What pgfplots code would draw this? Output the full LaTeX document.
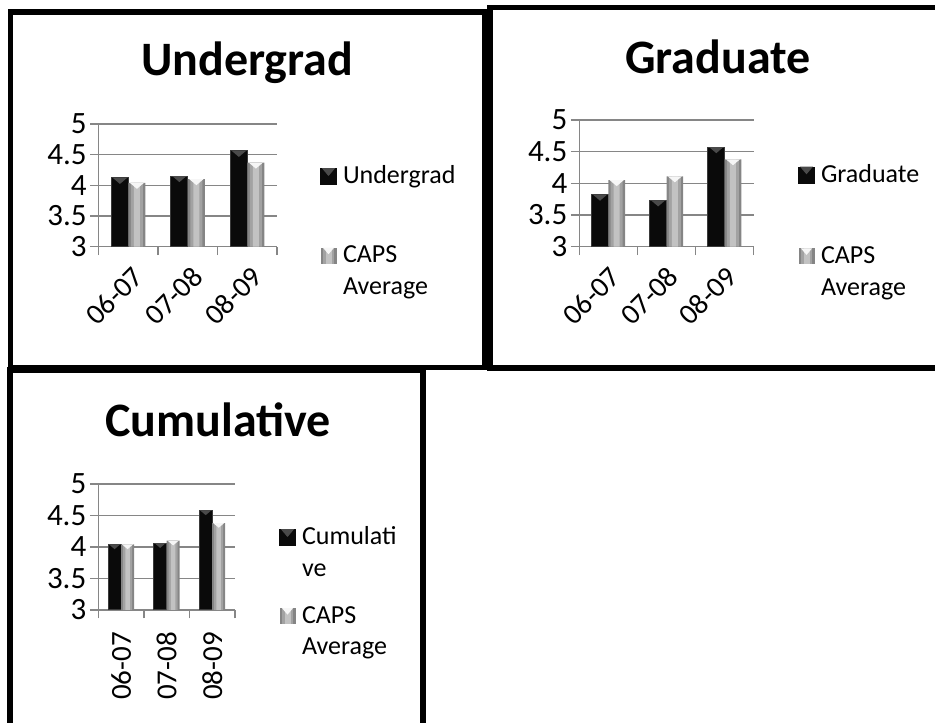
\documentclass[border=0pt]{standalone}
\usepackage{fontspec}
\setmainfont{Carlito}
\usepackage{pgfplots}
\pgfplotsset{compat=1.18}

\definecolor{rule}{HTML}{868686}
\definecolor{inkbar}{HTML}{0A0A0A}
\definecolor{inkedge}{HTML}{3A3A3A}
\definecolor{inktip}{HTML}{4A4A4A}
\definecolor{capsmid}{HTML}{C2C2C2}
\definecolor{capsbody}{HTML}{A2A2A2}
\definecolor{capsedge}{HTML}{858585}
\definecolor{capstip}{HTML}{F6F6F6}

% downward wedge hanging from the top of a bar
\pgfdeclareplotmark{wedge}{%
  \pgfpathmoveto{\pgfqpoint{-\pgfplotmarksize}{0pt}}%
  \pgfpathlineto{\pgfqpoint{\pgfplotmarksize}{0pt}}%
  \pgfpathlineto{\pgfqpoint{0pt}{-0.85\pgfplotmarksize}}%
  \pgfpathclose
  \pgfusepathqfill}

\newcommand{\entry}[1]{\begin{tabular}[t]{@{}l@{}}#1\end{tabular}}

\pgfplotsset{
  panel/.style={
    scale only axis, anchor=south west,
    ymin=3, ymax=5, ytick={3,3.5,...,5},
    xmin=0.5, xmax=3.5,
    xtick={0.5,1.5,2.5,3.5}, xticklabels={},
    extra x ticks={1,2,3},
    extra x tick labels={06-07,07-08,08-09},
    extra x tick style={major tick length=0pt},
    axis lines*=left,
    axis line style={rule, line width=1.4pt},
    ymajorgrids,
    major grid style={rule, line width=1.4pt},
    tick align=outside, major tick length=8.5pt,
    tick style={rule, line width=1.4pt},
    y tick label style={font=\fontsize{31}{36}\selectfont},
    x tick label style={font=\fontsize{29}{34}\selectfont},
    /pgf/number format/assume math mode=true,
    legend style={draw=none, fill=none, inner sep=0pt, outer sep=0pt,
      column sep=4pt, cells={anchor=base west},
      font=\fontsize{26}{31.6}\selectfont},
  },
  % dark bars of the group being compared
  series/.style={ybar, bar shift=-#1, fill=inkbar, draw=inkedge, line width=1pt,
    mark=wedge, mark options={fill=inktip, draw=none, xshift=-#1},
    legend image code/.code={\fill[inkbar] (0pt,-1pt) rectangle (16pt,15pt);
      \fill[inktip] (2.5pt,15pt) -- (13.5pt,15pt) -- (8pt,8.5pt) -- cycle;}},
  % grey CAPS bars, body first and a lighter core on top
  caps/.style={ybar, bar shift=#1, fill=capsedge, draw=none,
    legend image code/.code={\fill[capsedge] (0pt,-1pt) rectangle (16pt,15pt);
      \fill[capsbody] (2.5pt,-1pt) rectangle (13.5pt,15pt);
      \fill[capsmid] (5pt,-1pt) rectangle (11pt,15pt);
      \fill[capstip] (2.5pt,15pt) -- (13.5pt,15pt) -- (8pt,8.5pt) -- cycle;}},
  capsbody/.style={ybar, bar shift=#1, fill=capsbody, draw=none, forget plot},
  capscore/.style={ybar, bar shift=#1, fill=capsmid, draw=none, forget plot,
    mark=wedge, mark options={fill=capstip, draw=none, xshift=#1}},
}

\begin{document}
\begin{tikzpicture}
\useasboundingbox (0pt,0pt) rectangle (935pt,723pt);

% Undergrad
\begin{axis}[panel, at={(98.7pt,476.3pt)}, width=178.4pt, height=122.7pt,
  x tick label style={xshift=10pt, rotate=45, anchor=east, inner sep=0pt},
  xticklabel shift=25pt,
  legend style={at={(axis description cs:1.2405,0.7098)}, anchor=north west, row sep=51.4pt}]
\addplot[series=8.5pt, bar width=17pt, mark size=7pt] coordinates {(1,4.12) (2,4.15) (3,4.56)};
\addlegendentry{\entry{Undergrad}}
\addplot[caps=8.5pt, bar width=17pt] coordinates {(1,4.04) (2,4.10) (3,4.37)};
\addlegendentry{\entry{CAPS\\Average}}
\addplot[capsbody=8.5pt, bar width=12pt] coordinates {(1,4.04) (2,4.10) (3,4.37)};
\addplot[capscore=8.5pt, bar width=6pt, mark size=7pt] coordinates {(1,4.04) (2,4.10) (3,4.37)};
\end{axis}

% Graduate
\begin{axis}[panel, at={(579.3pt,476.3pt)}, width=174.4pt, height=126.7pt,
  x tick label style={xshift=7pt, rotate=45, anchor=east, inner sep=0pt},
  xticklabel shift=25pt,
  legend style={at={(axis description cs:1.254,0.7009)}, anchor=north west, row sep=53.8pt}]
\addplot[series=8.35pt, bar width=16.7pt, mark size=7pt] coordinates {(1,3.82) (2,3.73) (3,4.57)};
\addlegendentry{\entry{Graduate}}
\addplot[caps=8.35pt, bar width=16.7pt] coordinates {(1,4.05) (2,4.11) (3,4.38)};
\addlegendentry{\entry{CAPS\\Average}}
\addplot[capsbody=8.35pt, bar width=12pt] coordinates {(1,4.05) (2,4.11) (3,4.38)};
\addplot[capscore=8.35pt, bar width=6pt, mark size=7pt] coordinates {(1,4.05) (2,4.11) (3,4.38)};
\end{axis}

% Cumulative
\begin{axis}[panel, at={(98.3pt,113pt)}, width=136.7pt, height=126pt,
  x tick label style={rotate=90, anchor=east, inner sep=0pt},
  xticklabel shift=22pt,
  legend style={at={(axis description cs:1.3219,0.7095)}, anchor=north west, row sep=50.8pt}]
\addplot[series=6.5pt, bar width=13pt, mark size=5.5pt] coordinates {(1,4.04) (2,4.06) (3,4.58)};
\addlegendentry{\entry{Cumulati\\ve}}
\addplot[caps=6.5pt, bar width=13pt] coordinates {(1,4.04) (2,4.10) (3,4.38)};
\addlegendentry{\entry{CAPS\\Average}}
\addplot[capsbody=6.5pt, bar width=9pt] coordinates {(1,4.04) (2,4.10) (3,4.38)};
\addplot[capscore=6.5pt, bar width=4.5pt, mark size=5.5pt] coordinates {(1,4.04) (2,4.10) (3,4.38)};
\end{axis}

% panel titles
\node[anchor=base, font=\fontsize{48}{57}\selectfont\bfseries] at (247pt,647pt) {Undergrad};
\node[anchor=base, font=\fontsize{48}{57}\selectfont\bfseries] at (717.8pt,649.7pt) {Graduate};
\node[anchor=base, font=\fontsize{48}{57}\selectfont\bfseries] at (218.3pt,286.3pt) {Cumulative};

% panel frames
\draw[line width=5.5pt] (10.5pt,711pt) rectangle (484.5pt,355.5pt);
\draw[line width=5.5pt] (490pt,715.5pt) rectangle (945pt,355pt);
\draw[line width=5.5pt] (10pt,353pt) rectangle (423pt,-20pt);
\end{tikzpicture}
\end{document}
